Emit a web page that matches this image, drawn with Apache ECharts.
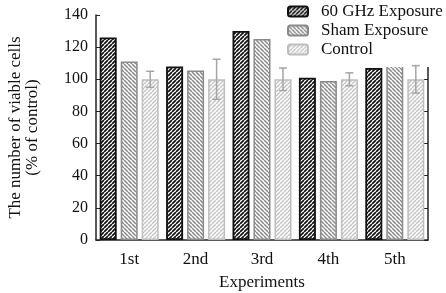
<!DOCTYPE html>
<html>
<head>
<meta charset="utf-8">
<script src="https://cdn.jsdelivr.net/npm/echarts@6/dist/echarts.min.js"></script>
<style>
  html, body { margin: 0; padding: 0; background: #fff; }
  #main { width: 446px; height: 293px; }
</style>
</head>
<body>
<div id="main"></div>
<script>
// data
const experiments = ['1st', '2nd', '3rd', '4th', '5th'];
const ghz60 = [126, 108, 130, 101, 107];
const sham = [111, 105.5, 125, 99, 109];
const control = [100, 100, 100, 100, 100];
const controlErr = [5, 12.5, 7, 4, 8.5];
const yTicks = { min: 0, max: 140, step: 20 };

const FONT = 'Liberation Serif';

// diagonal hatch pattern tile
function hatch(color, dir, lw) {
  const c = document.createElement('canvas');
  c.width = 4; c.height = 4;
  const ctx = c.getContext('2d');
  ctx.fillStyle = '#fff';
  ctx.fillRect(0, 0, 4, 4);
  ctx.strokeStyle = color;
  ctx.lineWidth = lw;
  ctx.beginPath();
  for (let x0 = -4; x0 <= 4; x0 += 4) {
    if (dir === '/') { ctx.moveTo(x0, 4); ctx.lineTo(x0 + 4, 0); }
    else { ctx.moveTo(x0, 0); ctx.lineTo(x0 + 4, 4); }
  }
  ctx.stroke();
  return { image: c, repeat: 'repeat' };
}

const chart = echarts.init(document.getElementById('main'), null, { renderer: 'canvas' });

const barW = 17;
const gapPx = 4;

const option = {
  backgroundColor: '#fff',
  animation: false,
  grid: { left: 96, right: 18, top: 15, bottom: 53, outerBoundsMode: 'none' },
  legend: {
    orient: 'vertical',
    left: 282,
    top: 0,
    padding: [3, 6, 9, 5],
    backgroundColor: '#fff',
    itemWidth: 20,
    itemHeight: 10,
    itemGap: 2,
    textStyle: { fontFamily: FONT, fontSize: 17, color: '#111', padding: [0, 0, 0, 8] },
    data: ['60 GHz Exposure', 'Sham Exposure', 'Control']
  },
  xAxis: {
    type: 'category',
    data: experiments,
    name: 'Experiments',
    nameLocation: 'middle',
    nameGap: 34,
    nameTextStyle: { fontFamily: FONT, fontSize: 17, color: '#111' },
    axisLine: { lineStyle: { color: '#222', width: 1.5 } },
    axisTick: { length: 12, lineStyle: { color: '#222', width: 1.5 } },
    axisLabel: { fontFamily: FONT, fontSize: 17, color: '#111', margin: 11 }
  },
  yAxis: [{
    type: 'value',
    min: yTicks.min, max: yTicks.max, interval: yTicks.step,
    name: 'The number of viable cells\n(% of control)',
    nameLocation: 'middle',
    nameGap: 55,
    nameTextStyle: { fontFamily: FONT, fontSize: 17, color: '#111', lineHeight: 17 },
    axisLine: { show: true, lineStyle: { color: '#222', width: 1.5 } },
    axisTick: { show: true, inside: true, length: 4, lineStyle: { color: '#222' } },
    axisLabel: { fontFamily: FONT, fontSize: 16, color: '#111', margin: 8 },
    splitLine: { show: false }
  }, {
    type: 'value',
    position: 'right',
    min: yTicks.min, max: yTicks.max, interval: yTicks.step,
    axisLine: { show: true, lineStyle: { color: '#222', width: 1.5 } },
    axisTick: { show: true, inside: true, length: 4, lineStyle: { color: '#222' } },
    axisLabel: { show: false },
    splitLine: { show: false }
  }],
  series: [{
    name: '60 GHz Exposure',
    type: 'bar',
    barWidth: barW,
    barGap: (gapPx / barW * 100) + '%',
    data: ghz60,
    itemStyle: { color: hatch('#111', '/', 1.7), borderColor: '#111', borderWidth: 1.8 }
  }, {
    name: 'Sham Exposure',
    type: 'bar',
    barWidth: barW,
    data: sham,
    itemStyle: { color: hatch('#8a8a8a', '\\', 1.5), borderColor: '#8a8a8a', borderWidth: 1.5 }
  }, {
    name: 'Control',
    type: 'bar',
    barWidth: barW,
    data: control,
    itemStyle: { color: hatch('#c4c4c4', '/', 1.4), borderColor: '#bdbdbd', borderWidth: 1.5 }
  }, {
    name: 'err',
    type: 'custom',
    z: 5,
    data: control.map((v, i) => [i, v - controlErr[i], v + controlErr[i]]),
    renderItem: function (params, api) {
      const off = barW + gapPx;
      const lo = api.coord([api.value(0), api.value(1)]);
      const hi = api.coord([api.value(0), api.value(2)]);
      const x = lo[0] + off;
      const cap = 4;
      const st = { stroke: '#a5a5a5', lineWidth: 1.5 };
      return {
        type: 'group',
        children: [
          { type: 'line', shape: { x1: x, y1: lo[1], x2: x, y2: hi[1] }, style: st },
          { type: 'line', shape: { x1: x - cap, y1: lo[1], x2: x + cap, y2: lo[1] }, style: st },
          { type: 'line', shape: { x1: x - cap, y1: hi[1], x2: x + cap, y2: hi[1] }, style: st }
        ]
      };
    }
  }]
};

chart.setOption(option);
</script>
</body>
</html>
